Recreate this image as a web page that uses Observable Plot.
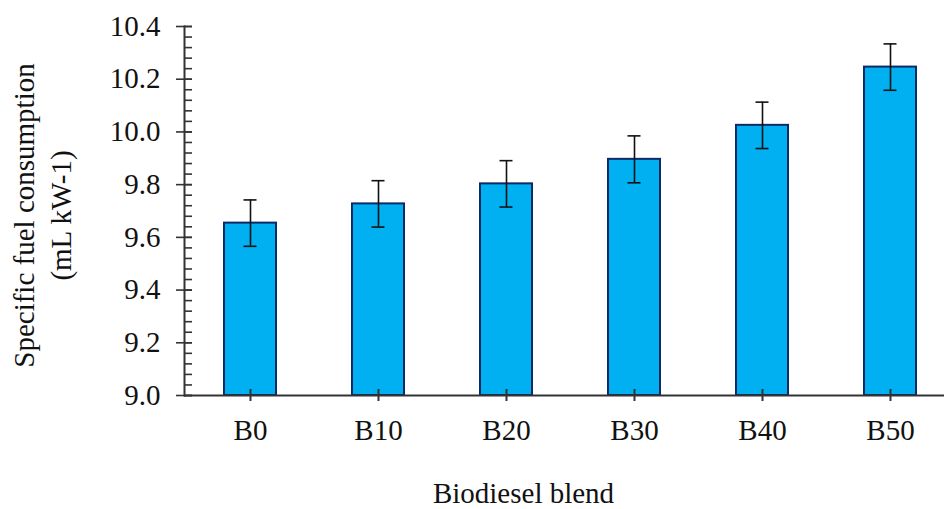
<!DOCTYPE html>
<html>
<head>
<meta charset="utf-8">
<script src="https://cdn.jsdelivr.net/npm/d3@7"></script>
<script src="https://cdn.jsdelivr.net/npm/@observablehq/plot@0.6"></script>
<style>
  html, body { margin: 0; padding: 0; background: #fff; }
  svg text { font-family: 'Liberation Serif', 'Times New Roman', serif !important; font-variant: normal !important; }
</style>
</head>
<body>
<div id="chart"></div>
<script>
const blends = ["B0", "B10", "B20", "B30", "B40", "B50"];
const sfc = [9.654, 9.727, 9.803, 9.896, 10.025, 10.246];
const sfcErr = [0.088, 0.088, 0.088, 0.089, 0.088, 0.088];
const yMajorTicks = [9.0, 9.2, 9.4, 9.6, 9.8, 10.0, 10.2, 10.4];
const yMinorStep = 0.04;

const data = blends.map((b, i) => ({blend: b, value: sfc[i], lo: sfc[i] - sfcErr[i], hi: sfc[i] + sfcErr[i]}));
const yMinorTicks = d3.range(0, Math.round((10.4 - 9.0) / yMinorStep) + 1).map(i => +(9.0 + i * yMinorStep).toFixed(2));

const serif = "'Liberation Serif', 'Times New Roman', serif";
const axisColor = "#333";
const chart = Plot.plot({
  width: 944,
  height: 509,
  marginTop: 26,
  marginBottom: 114,
  marginLeft: 184,
  marginRight: 0,
  style: {fontFamily: serif, fontSize: "29px", color: "#111", background: "#fff"},
  x: {domain: blends, range: [184, 955], paddingInner: 0.595, paddingOuter: 0.2975},
  y: {domain: [9.0, 10.4]},
  marks: [
    Plot.barY(data, {x: "blend", y1: 9.0, y2: "value", fill: "#00b0f0", stroke: "#0d2a66", strokeWidth: 2}),
    Plot.ruleX(data, {x: "blend", y1: "lo", y2: "hi", stroke: "#111", strokeWidth: 1.6}),
    Plot.tickY(data, {x: "blend", y: "hi", stroke: "#111", strokeWidth: 1.6, inset: 19.5}),
    Plot.tickY(data, {x: "blend", y: "lo", stroke: "#111", strokeWidth: 1.6, inset: 19.5}),
    Plot.ruleY([9.0], {stroke: axisColor, strokeWidth: 2}),
    Plot.axisY(yMinorTicks, {anchor: "left", tickSize: 8, dx: 8, tickFormat: () => "", label: null, stroke: axisColor, strokeWidth: 1.6}),
    Plot.axisY(yMajorTicks, {anchor: "left", tickSize: 16, dx: 8, tickPadding: 16, tickFormat: d3.format(".1f"), label: null, stroke: axisColor, strokeWidth: 1.6, fill: "#111", fontFamily: serif}),
    Plot.frame({anchor: "left", stroke: axisColor, strokeWidth: 2}),
    Plot.axisX({anchor: "bottom", tickSize: 12, dy: -6, tickPadding: 18, label: null, stroke: axisColor, strokeWidth: 2, fill: "#111", fontFamily: serif}),
    Plot.text(["Specific fuel consumption\n(mL kW-1)"], {frameAnchor: "left", textAnchor: "middle", rotate: -90, dx: -144, dy: 4.5, lineAnchor: "middle", lineHeight: 1.3, fill: "#111", fontFamily: serif}),
    Plot.text(["Biodiesel blend"], {frameAnchor: "bottom", textAnchor: "middle", dx: -41, dy: 98, lineAnchor: "middle", fill: "#111", fontFamily: serif})
  ]
});
document.getElementById("chart").appendChild(chart);
</script>
</body>
</html>
